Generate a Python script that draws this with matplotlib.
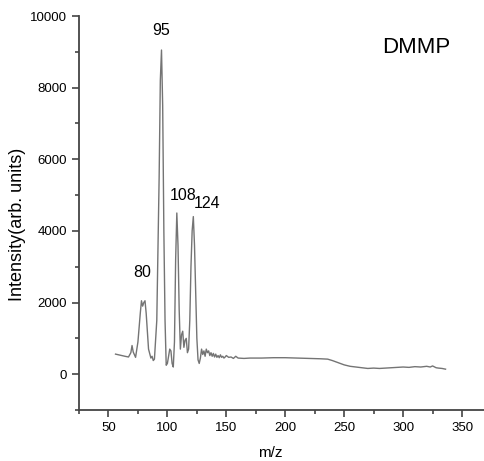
import matplotlib
matplotlib.use("Agg")
import matplotlib.pyplot as plt
from matplotlib.ticker import MultipleLocator

plt.rcParams['font.family'] = ['Liberation Sans', 'DejaVu Sans']

# spectrum (m/z, intensity)
mz = [56, 60, 64, 67, 69, 70, 71, 73, 75, 77, 78, 79, 80, 81, 82, 84, 86, 87, 88, 89,
      91, 93, 94, 95, 96, 97, 98, 99, 100, 101, 102, 103, 104, 105, 106, 107, 108, 109,
      110, 111, 112, 113, 114, 115, 116, 117, 118, 119, 120, 121, 122, 123, 124, 125,
      126, 127, 128, 129, 130, 131, 132, 133, 134, 135, 136, 137, 138, 139, 140, 141,
      142, 143, 144, 145, 146, 147, 148, 149, 150, 152, 154, 156, 158, 160, 165, 170,
      180, 190, 200, 210, 220, 230, 236, 240, 245, 250, 255, 260, 265, 270, 275, 280,
      285, 290, 295, 300, 305, 310, 315, 320, 323, 325, 328, 330, 333, 336]
intensity = [560, 530, 500, 480, 600, 800, 620, 470, 900, 1700, 2050, 1900, 2000, 2050, 1700, 700,
             450, 500, 380, 420, 1500, 5500, 8200, 9050, 7500, 4000, 1500, 250, 300, 500, 700, 650,
             300, 200, 900, 3200, 4500, 3600, 1800, 700, 1100, 1200, 750, 950, 1000, 600, 700,
             1500, 3000, 4000, 4400, 3600, 2300, 1000, 400, 300, 450, 700, 550, 650, 500, 700,
             600, 650, 520, 600, 500, 580, 480, 560, 470, 520, 460, 540, 470, 500, 450, 480,
             520, 470, 480, 440, 500, 450, 440, 450, 450, 460, 460, 450, 440, 430, 420, 380,
             320, 260, 220, 200, 180, 160, 170, 160, 170, 180, 190, 200, 190, 210, 200, 220,
             200, 230, 180, 170, 160, 140]

peak_labels = ["80", "95", "108", "124"]
peak_x = [78.5, 95, 113, 133.5]
peak_y = [2620, 9380, 4780, 4550]

fig = plt.figure(figsize=(4.85, 4.61), dpi=100)
ax = fig.add_axes([79 / 485, 51 / 461, 412.5 / 485, 394 / 461])
ax.plot(mz, intensity, color="#747474", lw=1.0)

for lab, x, y in zip(peak_labels, peak_x, peak_y):
    ax.text(x, y, lab, ha="center", va="bottom", fontsize=11.5)
ax.text(311, 9130, "DMMP", ha="center", va="center", fontsize=16)

ax.set_xlim(25, 375)
ax.set_ylim(-1000, 10000)
ax.xaxis.set_minor_locator(MultipleLocator(25))
ax.yaxis.set_minor_locator(MultipleLocator(1000))
ax.set_xticks([50, 100, 150, 200, 250, 300, 350])
ax.set_yticks([0, 2000, 4000, 6000, 8000, 10000])
ax.spines["top"].set_visible(False)
ax.spines["right"].set_visible(False)
for s in ("left", "bottom"):
    ax.spines[s].set_color("#444444")
    ax.spines[s].set_linewidth(1.3)
ax.tick_params(which="major", length=5, width=1.2, color="#444444", labelsize=9.5)
ax.tick_params(which="minor", length=3, width=1.2, color="#444444")

ax.set_xlabel("m/z", fontsize=11, va="center")
ax.xaxis.set_label_coords(0.463, -0.109)
ax.set_ylabel("Intensity(arb. units)", fontsize=13, va="center")
ax.yaxis.set_label_coords(-0.148, 0.47)

fig.savefig("out.png", dpi=100)
